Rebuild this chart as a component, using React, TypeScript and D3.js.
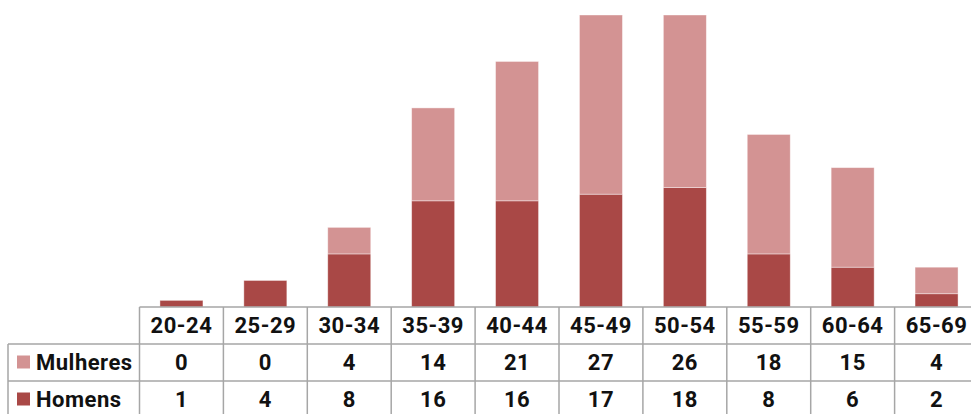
import React from 'react';
import * as d3 from 'd3';

const categories = ['20-24', '25-29', '30-34', '35-39', '40-44', '45-49', '50-54', '55-59', '60-64', '65-69'];
const mulheres = [0, 0, 4, 14, 21, 27, 26, 18, 15, 4];
const homens = [1, 4, 8, 16, 16, 17, 18, 8, 6, 2];
const seriesNames = ['Mulheres', 'Homens'];
const seriesColors = ['#D39393', '#A94846'];

const W = 971;
const H = 414;

const App: React.FC = () => {
  const tableLeft = 8;
  const plotLeft = 139.5;
  const bandW = 83.9;
  const baseY = 307;
  const rowH = 37;

  const x = d3.scaleBand<string>()
    .domain(categories)
    .range([plotLeft, plotLeft + bandW * categories.length])
    .paddingInner(0)
    .paddingOuter(0);

  const y = d3.scaleLinear().domain([0, 44]).range([baseY, 15]);

  const stackData = categories.map((c, i) => ({ cat: c, Homens: homens[i], Mulheres: mulheres[i] }));
  const stack = d3.stack<any>().keys(['Homens', 'Mulheres'])(stackData);
  const colorOf: Record<string, string> = { Mulheres: seriesColors[0], Homens: seriesColors[1] };

  const barW = 43;
  const gridColor = '#A6A6A6';
  const font = 'Roboto, "DejaVu Sans", sans-serif';
  const rows = [
    { name: seriesNames[0], values: mulheres, color: seriesColors[0] },
    { name: seriesNames[1], values: homens, color: seriesColors[1] },
  ];

  return (
    <svg width={W} height={H} style={{ position: 'absolute', left: 0, top: 0 }}>
      {stack.map(layer => (
        <g key={layer.key} fill={colorOf[layer.key]}>
          {layer.map((d, i) => (
            d[1] - d[0] > 0 ? (
              <rect
                key={i}
                x={x(categories[i])! + (bandW - barW) / 2}
                y={y(d[1])}
                width={barW}
                height={y(d[0]) - y(d[1])}
                stroke="#fff"
                strokeOpacity={0.5}
                strokeWidth={0.8}
              />
            ) : null
          ))}
        </g>
      ))}

      {/* table grid */}
      <g stroke={gridColor} strokeWidth={1.5} fill="none">
        <line x1={plotLeft} x2={W} y1={baseY} y2={baseY} />
        <line x1={tableLeft} x2={W} y1={baseY + rowH} y2={baseY + rowH} />
        <line x1={tableLeft} x2={W} y1={baseY + rowH * 2} y2={baseY + rowH * 2} />
        <line x1={tableLeft} x2={tableLeft} y1={baseY + rowH} y2={H} />
        {categories.map(c => (
          <line key={c} x1={x(c)!} x2={x(c)!} y1={baseY} y2={H} />
        ))}
      </g>

      {/* header and values */}
      <g fontFamily={font} fontWeight="bold" fontSize={22} fill="#111" textAnchor="middle" letterSpacing={0.5}>
        {categories.map(c => (
          <text key={c} x={x(c)! + bandW / 2} y={baseY + rowH / 2} dy="0.36em">{c}</text>
        ))}
        {rows.map((r, ri) => (
          <g key={r.name}>
            {r.values.map((v, i) => (
              <text key={i} x={x(categories[i])! + bandW / 2} y={baseY + rowH * (ri + 1.5)} dy="0.36em">{v}</text>
            ))}
            <rect x={17} y={baseY + rowH * (ri + 1.5) - 7} width={13} height={13} fill={r.color} />
            <text x={36} y={baseY + rowH * (ri + 1.5)} dy="0.36em" textAnchor="start">{r.name}</text>
          </g>
        ))}
      </g>
    </svg>
  );
};

export default App;
